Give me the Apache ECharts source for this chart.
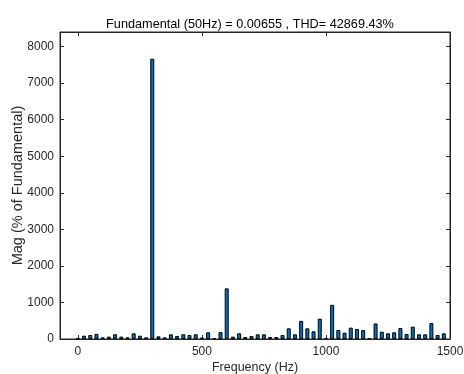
<!DOCTYPE html>
<html>
<head>
<meta charset="utf-8">
<script src="https://cdn.jsdelivr.net/npm/echarts@6/dist/echarts.min.js"></script>
<style>html,body{margin:0;padding:0;background:#fff}#c{width:464px;height:374px}</style>
</head>
<body>
<div id="c"></div>
<script>
var titleText = 'Fundamental (50Hz) = 0.00655 , THD= 42869.43%';
var xName = 'Frequency (Hz)';
var yName = 'Mag (% of Fundamental)';
var xTicks = [0, 500, 1000, 1500];
var yTicks = [0, 1000, 2000, 3000, 4000, 5000, 6000, 7000, 8000];
var freqs = [0, 25, 50, 75, 100, 125, 150, 175, 200, 225, 250, 275,
  300, 325, 350, 375, 400, 425, 450, 475, 500, 525, 550, 575,
  600, 625, 650, 675, 700, 725, 750, 775, 800, 825, 850, 875,
  900, 925, 950, 975, 1000, 1025, 1050, 1075, 1100, 1125, 1150, 1175,
  1200, 1225, 1250, 1275, 1300, 1325, 1350, 1375, 1400, 1425, 1450, 1475];
var mags = [20, 90, 110, 140, 45, 65, 130, 65, 45, 155, 90, 45,
  7670, 73, 45, 128, 82, 128, 110, 128, 40, 183, 27, 190,
  1385, 64, 155, 55, 82, 128, 128, 55, 55, 110, 292, 128,
  497, 292, 210, 557, 30, 935, 247, 173, 310, 274, 247, 27,
  425, 200, 155, 183, 301, 137, 338, 128, 128, 435, 110, 155];

var data = freqs.map(function (f, i) { return [f, mags[i]]; });
var ink = '#262626';
var font = 'Liberation Sans, Arial, sans-serif';
var xMin = -72, xMax = 1500, yMin = 0, yMax = 8400;
function yLabel(v) { return yTicks.indexOf(v) >= 0 ? String(v) : ''; }

function xAxis(pos, show) {
  return {
    type: 'value', position: pos, gridIndex: 0, min: xMin, max: xMax,
    name: show ? xName : '', nameLocation: 'middle', nameGap: 22, nameMoveOverlap: false,
    nameTextStyle: { color: ink, fontSize: 12.5, fontFamily: font },
    axisLine: { show: true, onZero: false, lineStyle: { color: ink, width: 1 } },
    axisTick: { show: true, inside: true, length: 4, customValues: xTicks, lineStyle: { color: ink } },
    axisLabel: { show: show, customValues: xTicks, formatter: function (v) { return String(v); }, color: ink, fontSize: 12, fontFamily: font, margin: 7 },
    splitLine: { show: false }
  };
}
function yAxis(pos, show) {
  return {
    type: 'value', position: pos, gridIndex: 0, min: yMin, max: yMax, interval: 1000,
    name: show ? yName : '', nameLocation: 'middle', nameGap: 35, nameMoveOverlap: false,
    nameTextStyle: { color: ink, fontSize: 14.5, fontFamily: font },
    axisLine: { show: true, onZero: false, lineStyle: { color: ink, width: 1 } },
    axisTick: { show: true, inside: true, length: 4, lineStyle: { color: ink } },
    axisLabel: { show: show, formatter: yLabel, color: ink, fontSize: 12, fontFamily: font, margin: 6 },
    splitLine: { show: false }
  };
}

var chart = echarts.init(document.getElementById('c'), null, { renderer: 'canvas' });
chart.setOption({
  animation: false,
  backgroundColor: '#fff',
  title: {
    text: titleText, left: 245, top: 13, textAlign: 'center',
    textStyle: { color: '#000', fontSize: 12.7, fontWeight: 'normal', fontFamily: font }
  },
  grid: {
    left: 60, right: 14, top: 32, bottom: 35, containLabel: false, outerBoundsMode: 'none',
    show: true, borderColor: ink, borderWidth: 1, backgroundColor: 'transparent'
  },
  xAxis: [xAxis('bottom', true), xAxis('top', false)],
  yAxis: [yAxis('left', true), yAxis('right', false)],
  series: [{
    type: 'bar', data: data, barWidth: 4, xAxisIndex: 0, yAxisIndex: 0,
    itemStyle: { color: '#0072BD', borderColor: '#000', borderWidth: 1 }
  }]
});
</script>
</body>
</html>
